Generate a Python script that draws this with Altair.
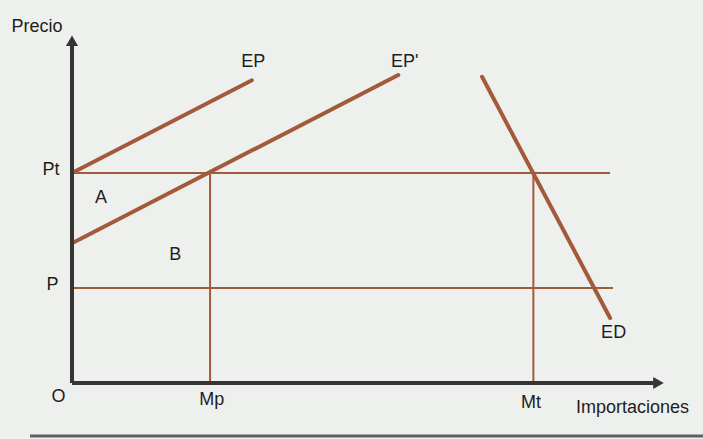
import altair as alt
import pandas as pd

# Price levels
P_WORLD_TARIFF = 36.2   # Pt
P_WORLD = 16.4          # P

# Import quantities
M_P = 23.4   # Mp
M_T = 78.2   # Mt

# Export supply curves (start/end points)
ep_x = [0.0, 30.5]
ep_y = [36.2, 52.2]
ep2_x = [0.0, 55.3]
ep2_y = [24.1, 53.1]

# Import demand curve
ed_x = [69.5, 91.2]
ed_y = [52.8, 11.2]

# Right ends of the horizontal price lines
pt_end = 91.2
p_end = 91.7

BROWN = "#a35a3b"
AXIS = "#353535"
FONT = "Liberation Sans"
FS = 18

xs = alt.Scale(domain=[0, 100], nice=False, zero=False)
ys = alt.Scale(domain=[0, 60], nice=False, zero=False)


def X(field="x"):
    return alt.X(field, type="quantitative", scale=xs, axis=None)


def Y(field="y"):
    return alt.Y(field, type="quantitative", scale=ys, axis=None)


curves = pd.DataFrame(
    {"x": ep_x + ep2_x + ed_x,
     "y": ep_y + ep2_y + ed_y,
     "curve": ["EP"] * 2 + ["EP'"] * 2 + ["ED"] * 2}
)

segments = pd.DataFrame(
    {"x": [0, 0, M_P, M_T],
     "x2": [pt_end, p_end, M_P, M_T],
     "y": [P_WORLD_TARIFF, P_WORLD, 0, 0],
     "y2": [P_WORLD_TARIFF, P_WORLD, P_WORLD_TARIFF, P_WORLD_TARIFF]}
)

axes = pd.DataFrame(
    {"x": [0, 0], "x2": [0, 98.6], "y": [0, 0], "y2": [58.3, 0]}
)

arrows = pd.DataFrame(
    {"x": [0, 99.4], "y": [59.0, 0], "shape": ["triangle-up", "triangle-right"]}
)

labels = pd.DataFrame(
    {"text": ["EP", "EP'", "A", "B", "ED", "Mp", "Mt", "Importaciones"],
     "x": [30.7, 56.4, 4.9, 17.5, 91.8, 23.7, 77.8, 95.0],
     "y": [55.3, 55.3, 31.9, 22.1, 8.6, -2.9, -3.4, -4.3]}
)

right_labels = pd.DataFrame(
    {"text": ["Precio", "Pt", "P", "O"],
     "x": [-1.6, -2.1, -2.3, -1.1],
     "y": [61.4, 36.8, 16.9, -2.4]}
)

curve_layer = alt.Chart(curves).mark_line(
    color=BROWN, strokeWidth=4, strokeCap="round", clip=False
).encode(x=X(), y=Y(), detail="curve:N")

seg_layer = alt.Chart(segments).mark_rule(
    color=BROWN, strokeWidth=2
).encode(x=X(), x2="x2", y=Y(), y2="y2")

axis_layer = alt.Chart(axes).mark_rule(
    color=AXIS, strokeWidth=4
).encode(x=X(), x2="x2", y=Y(), y2="y2")

arrow_layer = alt.Chart(arrows).mark_point(
    filled=True, color=AXIS, size=150, opacity=1, clip=False
).encode(
    x=X(), y=Y(),
    shape=alt.Shape("shape:N", scale=None, legend=None),
)

text_layer = alt.Chart(labels).mark_text(
    font=FONT, fontSize=FS, color="#1e1e1e", align="center", baseline="middle", clip=False
).encode(x=X(), y=Y(), text="text:N")

right_text_layer = alt.Chart(right_labels).mark_text(
    font=FONT, fontSize=FS, color="#1e1e1e", align="right", baseline="middle", clip=False
).encode(x=X(), y=Y(), text="text:N")

bottom_rule = alt.Chart(pd.DataFrame({"a": [0]})).mark_rule(
    color="#5f6161", strokeWidth=3
).encode(x=alt.value(-42), x2=alt.value(631), y=alt.value(401))

chart = alt.layer(
    seg_layer, curve_layer, axis_layer, arrow_layer, text_layer, right_text_layer, bottom_rule
).properties(
    width=590,
    height=348,
    background="#eef0ee",
    padding={"left": 72, "top": 35, "right": 41, "bottom": 56},
    autosize=alt.AutoSizeParams(type="none"),
).configure_view(strokeWidth=0)

chart.save("out.html", embed_options={"renderer": "svg", "actions": False})
